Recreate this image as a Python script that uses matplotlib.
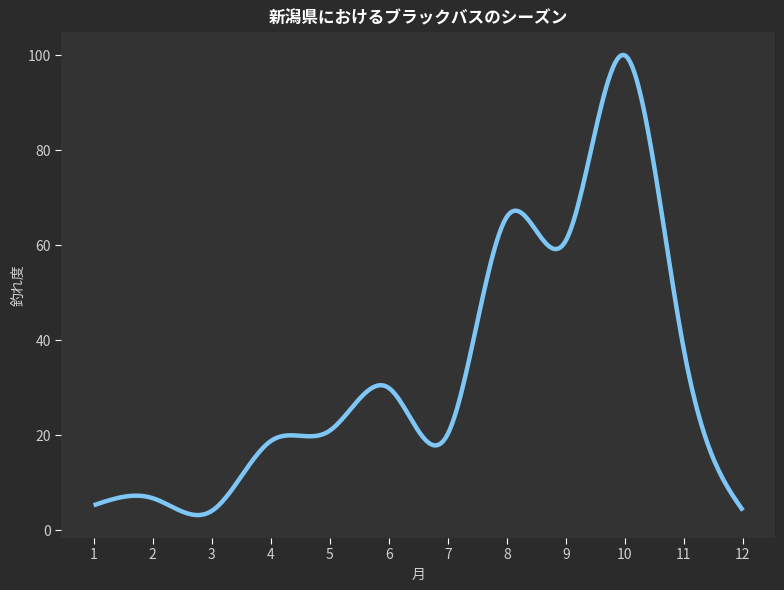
import matplotlib
matplotlib.use("Agg")
import matplotlib.pyplot as plt
import numpy as np

plt.rcParams["font.family"] = ["Noto Sans CJK JP", "DejaVu Sans"]

months = [1, 2, 3, 4, 5, 6, 7, 8, 9, 10, 11, 12]
catch_rate = [5.3, 6.8, 4.1, 18.8, 21.0, 30.0, 20.3, 66.0, 61.0, 100.0, 38.0, 4.2]


def natural_spline(x, y, n=300):
    """Natural cubic spline evaluated on a dense grid."""
    x = np.asarray(x, float)
    y = np.asarray(y, float)
    m = len(x)
    h = np.diff(x)
    A = np.zeros((m, m))
    b = np.zeros(m)
    A[0, 0] = A[-1, -1] = 1.0
    for i in range(1, m - 1):
        A[i, i - 1] = h[i - 1]
        A[i, i] = 2 * (h[i - 1] + h[i])
        A[i, i + 1] = h[i]
        b[i] = 6 * ((y[i + 1] - y[i]) / h[i] - (y[i] - y[i - 1]) / h[i - 1])
    M = np.linalg.solve(A, b)
    xs = np.linspace(x[0], x[-1], n)
    idx = np.clip(np.searchsorted(x, xs) - 1, 0, m - 2)
    x0, x1 = x[idx], x[idx + 1]
    hi = x1 - x0
    t0, t1 = x1 - xs, xs - x0
    ys = (M[idx] * t0 ** 3 + M[idx + 1] * t1 ** 3) / (6 * hi) \
        + (y[idx] / hi - M[idx] * hi / 6) * t0 \
        + (y[idx + 1] / hi - M[idx + 1] * hi / 6) * t1
    return xs, ys


xs, ys = natural_spline(months, catch_rate)

fig = plt.figure(figsize=(7.84, 5.9), dpi=100, facecolor="#2b2b2b")
ax = fig.add_axes([0.078, 0.088, 0.911, 0.858], facecolor="#333333")
ax.plot(xs, ys, color="#7ec6f6", linewidth=3.2, solid_capstyle="butt")

ax.set_xticks(months)
for s in ax.spines.values():
    s.set_visible(False)
ax.tick_params(colors="white", labelcolor="#d0d0d0", labelsize=10, length=4)
ax.set_xlabel("月", color="#d0d0d0", fontsize=10)
ax.set_ylabel("釣れ度", color="#d0d0d0", fontsize=10, labelpad=1)
ax.set_title("新潟県におけるブラックバスのシーズン", color="white",
             fontsize=12, fontweight="bold", pad=6)

fig.savefig("out.png", dpi=100, facecolor=fig.get_facecolor())
